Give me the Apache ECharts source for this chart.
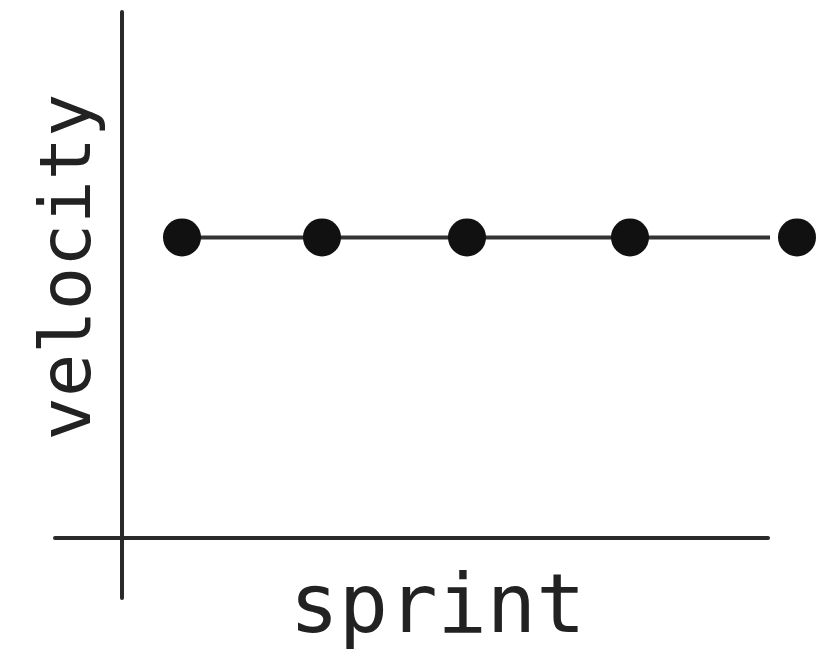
<!DOCTYPE html>
<html>
<head>
<meta charset="utf-8">
<script src="https://cdn.jsdelivr.net/npm/echarts@6/dist/echarts.min.js"></script>
<style>
  html, body { margin: 0; padding: 0; background: #fff; }
  #chart { width: 820px; height: 663px; }
</style>
</head>
<body>
<div id="chart"></div>
<script>
// sketch data: where each sprint sits on the (unlabelled) x axis, and its velocity
var sprintPos = [0.6, 2.0, 3.45, 5.08, 6.75];
var velocity = [10, 10, 10, 10, 10];

var chartObj = document.getElementById('chart');
var chart = echarts.init(chartObj);

var points = sprintPos.map(function (x, i) { return [x, velocity[i]]; });

var option = {
    animation: false,
    backgroundColor: '#fff',
    grid: { left: 55, right: 52, top: 12, bottom: 65, containLabel: false, outerBoundsMode: 'none' },
    xAxis: {
        type: 'value',
        min: -0.67,
        max: 6.46,
        name: 'sprint',
        nameLocation: 'middle',
        nameGap: -28,
        nameTextStyle: {
            fontFamily: 'DejaVu Sans Mono',
            fontSize: 82,
            color: '#222',
            padding: [0, 0, 0, 52]
        },
        axisLine: { onZero: true, lineStyle: { color: '#2a2a2a', width: 4 } },
        axisTick: { show: false },
        axisLabel: { show: false },
        splitLine: { show: false }
    },
    yAxis: {
        type: 'value',
        min: -2,
        max: 17.5,
        name: 'velocity',
        nameLocation: 'middle',
        nameGap: -52,
        nameTextStyle: {
            fontFamily: 'DejaVu Sans Mono',
            fontSize: 72,
            color: '#222',
            padding: [0, 0, 0, 76]
        },
        axisLine: { onZero: true, lineStyle: { color: '#2a2a2a', width: 4 } },
        axisTick: { show: false },
        axisLabel: { show: false },
        splitLine: { show: false }
    },
    series: [
        {
            type: 'line',
            data: points,
            clip: false,
            symbol: 'circle',
            symbolSize: 38,
            itemStyle: { color: '#111' },
            lineStyle: { color: '#333', width: 4 }
        }
    ]
};
chart.setOption(option);
</script>
</body>
</html>
